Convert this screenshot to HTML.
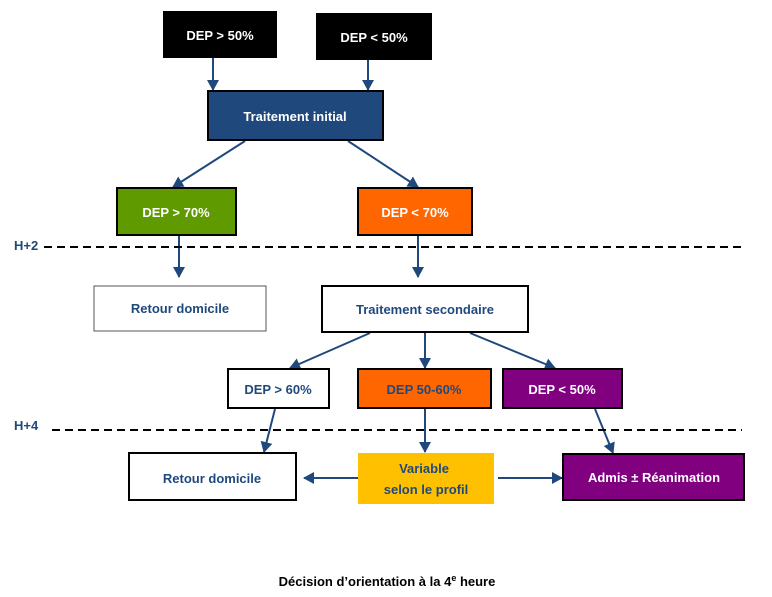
<!DOCTYPE html>
<html><head><meta charset="utf-8"><style>
html,body{margin:0;padding:0;background:#fff;}
svg{display:block;}
text{font-family:"Liberation Sans",sans-serif;font-weight:bold;font-size:13px;}
</style></head><body>
<svg width="772" height="597" viewBox="0 0 772 597" xmlns="http://www.w3.org/2000/svg">
<defs>
<marker id="a" markerWidth="12" markerHeight="12" refX="10" refY="6" orient="auto" markerUnits="userSpaceOnUse">
<path d="M0,0 L11,6 L0,12 z" fill="#1f497d"/></marker>
</defs>
<g stroke="#1f497d" stroke-width="2" fill="none" marker-end="url(#a)">
<line x1="213" y1="57" x2="213" y2="90"/>
<line x1="368" y1="59" x2="368" y2="90"/>
<line x1="245" y1="141" x2="173" y2="187"/>
<line x1="348" y1="141" x2="418" y2="187"/>
<line x1="179" y1="235" x2="179" y2="277"/>
<line x1="418" y1="235" x2="418" y2="277"/>
<line x1="370" y1="333" x2="290" y2="368"/>
<line x1="425" y1="333" x2="425" y2="368"/>
<line x1="470" y1="333" x2="555" y2="368"/>
<line x1="275" y1="409" x2="264" y2="452"/>
<line x1="425" y1="409" x2="425" y2="452"/>
<line x1="595" y1="409" x2="613" y2="453"/>
<line x1="358" y1="478" x2="304" y2="478"/>
<line x1="498" y1="478" x2="562" y2="478"/>
</g>
<g stroke="#000" stroke-width="2" stroke-dasharray="8,5">
<line x1="44" y1="247" x2="742" y2="247"/>
<line x1="52" y1="430" x2="742" y2="430"/>
</g>
<text x="14" y="250" fill="#1f497d">H+2</text>
<text x="14" y="430" fill="#1f497d">H+4</text>
<g stroke="#000" stroke-width="2">
<rect x="164" y="12" width="112" height="45" fill="#000"/>
<rect x="317" y="14" width="114" height="45" fill="#000"/>
<rect x="208" y="91" width="175" height="49" fill="#1f497d"/>
<rect x="117" y="188" width="119" height="47" fill="#5f9a00"/>
<rect x="358" y="188" width="114" height="47" fill="#ff6600"/>
<rect x="94" y="286" width="172" height="45" fill="#fff" stroke="#555" stroke-width="1"/>
<rect x="322" y="286" width="206" height="46" fill="#fff"/>
<rect x="228" y="369" width="101" height="39" fill="#fff"/>
<rect x="358" y="369" width="133" height="39" fill="#ff6600"/>
<rect x="503" y="369" width="119" height="39" fill="#800080"/>
<rect x="129" y="453" width="167" height="47" fill="#fff"/>
<rect x="563" y="454" width="181" height="46" fill="#800080"/>
</g>
<rect x="358" y="453" width="136" height="51" fill="#ffc000"/>
<g text-anchor="middle">
<text x="220" y="40" fill="#fff">DEP &gt; 50%</text>
<text x="374" y="42" fill="#fff">DEP &lt; 50%</text>
<text x="295" y="121" fill="#fff">Traitement initial</text>
<text x="176" y="217" fill="#fff">DEP &gt; 70%</text>
<text x="415" y="217" fill="#fff">DEP &lt; 70%</text>
<text x="180" y="313" fill="#1f497d">Retour domicile</text>
<text x="425" y="314" fill="#1f497d">Traitement secondaire</text>
<text x="278" y="394" fill="#1f497d">DEP &gt; 60%</text>
<text x="424" y="394" fill="#1f497d">DEP 50-60%</text>
<text x="562" y="394" fill="#fff">DEP &lt; 50%</text>
<text x="212" y="483" fill="#1f497d">Retour domicile</text>
<text x="424" y="473" fill="#1f497d">Variable</text>
<text x="426" y="494" fill="#1f497d">selon le profil</text>
<text x="654" y="482" fill="#fff">Admis ± Réanimation</text>
<text x="387" y="586" fill="#000" font-size="14.5">Décision d’orientation à la 4<tspan dy="-5" font-size="9">e</tspan><tspan dy="5"> heure</tspan></text>
</g>
</svg>
</body></html>
